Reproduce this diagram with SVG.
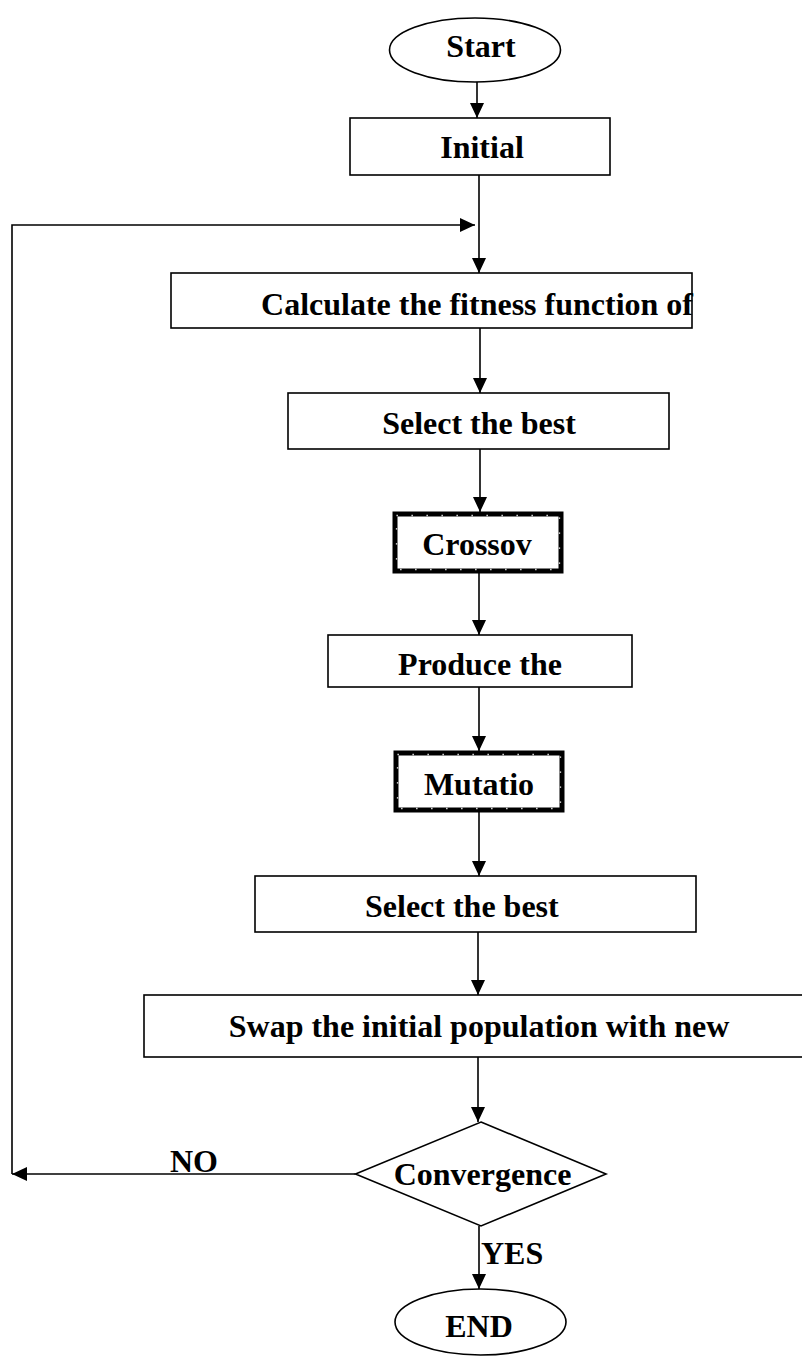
<svg xmlns="http://www.w3.org/2000/svg" width="802" height="1359" viewBox="0 0 802 1359">
<defs>
<marker id="ah" markerUnits="userSpaceOnUse" markerWidth="16" markerHeight="14" refX="15" refY="7" orient="auto">
<path d="M0,0 L15,7 L0,14 z" fill="#000"/>
</marker>
</defs>
<style>
.box{fill:#fff;stroke:#000;stroke-width:1.6}
.thick{fill:#fff;stroke:#000;stroke-width:5}
.dots{fill:none;stroke:#fff;stroke-width:1.3;stroke-dasharray:1.3 13.7}
.t{font-family:"Liberation Serif","Times New Roman",serif;font-weight:bold;font-size:32px;fill:#000}
.c{text-anchor:middle}
.ln{fill:none;stroke:#000;stroke-width:1.6}
</style>
<rect width="802" height="1359" fill="#fff"/>
<g id="connectors">
<path class="ln" d="M477,82 V118" marker-end="url(#ah)"/>
<path class="ln" d="M479,175 V273" marker-end="url(#ah)"/>
<path class="ln" d="M12,1174 V225 H475" marker-end="url(#ah)"/>
<path class="ln" d="M480,328 V393" marker-end="url(#ah)"/>
<path class="ln" d="M480,449 V512" marker-end="url(#ah)"/>
<path class="ln" d="M479,573 V635" marker-end="url(#ah)"/>
<path class="ln" d="M479,687 V751" marker-end="url(#ah)"/>
<path class="ln" d="M479,812 V876" marker-end="url(#ah)"/>
<path class="ln" d="M478,932 V995" marker-end="url(#ah)"/>
<path class="ln" d="M478,1057 V1122" marker-end="url(#ah)"/>
<path class="ln" d="M355.5,1174 H12" marker-end="url(#ah)"/>
<path class="ln" d="M479,1226 V1289" marker-end="url(#ah)"/>
<text class="t" x="170" y="1172">NO</text>
<text class="t" x="481" y="1264">YES</text>
</g>
<g id="start">
<ellipse class="box" cx="475" cy="50" rx="85.5" ry="32"/>
<text class="t c" x="481" y="57">Start</text>
</g>
<g id="initial">
<rect class="box" x="350" y="118" width="260" height="57"/>
<text class="t c" x="482" y="158">Initial</text>
</g>
<g id="calculate">
<rect class="box" x="171" y="273" width="521" height="55"/>
<text class="t c" x="477" y="315">Calculate the fitness function of</text>
</g>
<g id="select1">
<rect class="box" x="288" y="393" width="381" height="56"/>
<text class="t c" x="479" y="434">Select the best</text>
</g>
<g id="crossover">
<rect class="thick" x="395" y="514" width="166" height="57"/>
<rect class="dots" x="396.5" y="515.5" width="163" height="54"/>
<text class="t c" x="477" y="555">Crossov</text>
</g>
<g id="produce">
<rect class="box" x="328" y="635" width="304" height="52"/>
<text class="t c" x="480" y="675">Produce the</text>
</g>
<g id="mutation">
<rect class="thick" x="396" y="753" width="166" height="57"/>
<rect class="dots" x="397.5" y="754.5" width="163" height="54"/>
<text class="t c" x="479" y="795">Mutatio</text>
</g>
<g id="select2">
<rect class="box" x="255" y="876" width="441" height="56"/>
<text class="t" x="365" y="917">Select the best</text>
</g>
<g id="swap">
<rect class="box" x="144" y="995" width="670" height="62"/>
<text class="t c" x="479" y="1037">Swap the initial population with new</text>
</g>
<g id="convergence">
<polygon class="box" points="481,1122 606,1174 481,1226 355.5,1174"/>
<text class="t c" x="482.5" y="1185">Convergence</text>
</g>
<g id="end">
<ellipse class="box" cx="480.5" cy="1322" rx="85.5" ry="33"/>
<text class="t c" x="479" y="1337">END</text>
</g>
</svg>
